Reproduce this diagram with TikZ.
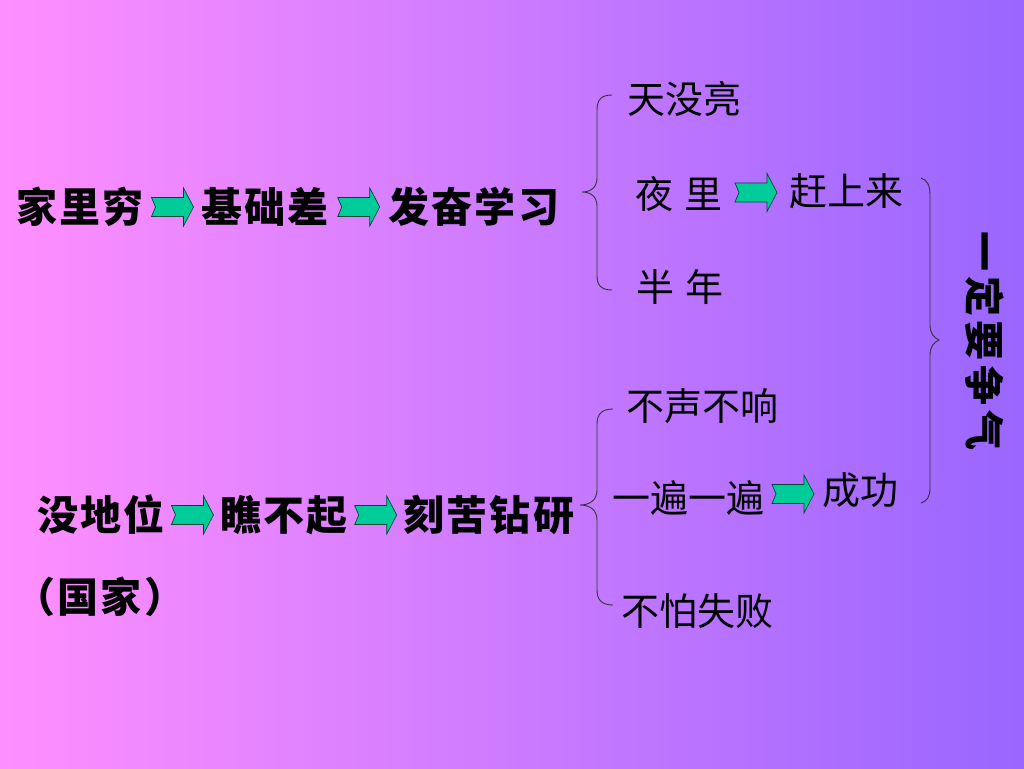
\documentclass[tikz,border=0pt]{standalone}
\usepackage{fontspec}
\newfontfamily\cjk{Noto Sans CJK SC}
\begin{document}
\begin{tikzpicture}[x=1pt,y=-1pt,
  lefttext/.style={inner sep=0pt, font=\cjk\bfseries\fontsize{41}{43}\selectfont\addfontfeature{LetterSpace=5}},
  righttext/.style={inner sep=0pt, font=\cjk\fontsize{38}{40}\selectfont},
  bracestyle/.style={draw=black!80, line width=0.9pt},
  barrow/.pic={\filldraw[fill={rgb,255:red,0;green,204;blue,153}, draw={rgb,255:red,0;green,70;blue,50}, line width=0.7pt]
     (-21,-9.5) -- (11,-9.5) -- (11,-19) -- (21,0) -- (11,19) -- (11,9.5) -- (-21,9.5) -- (-17,0) -- cycle;}
]
\useasboundingbox (0,0) rectangle (1024,768);
\shade[left color={rgb,255:red,255;green,143;blue,255}, right color={rgb,255:red,153;green,102;blue,255}] (0,0) rectangle (1024,768);

% top-left chain
\node[lefttext] (a1) at (80,207) {家里穷};
\node[lefttext] (a2) at (265,207) {基础差};
\node[lefttext] (a3) at (474,207) {发奋学习};
\path (a1.east) -- (a2.west) pic[pos=0.5]{barrow};
\path (a2.east) -- (a3.west) pic[pos=0.5]{barrow};

% bottom-left chain
\node[lefttext] (b1) at (101,515) {没地位};
\node[lefttext] (b2) at (284,515) {瞧不起};
\node[lefttext] (b3) at (489,515) {刻苦钻研};
\node[lefttext] (b4) at (100,597) {（国家）};
\path (b1.east) -- (b2.west) pic[pos=0.5]{barrow};
\path (b2.east) -- (b3.west) pic[pos=0.5]{barrow};

% upper brace
\draw[bracestyle] (612,95) .. controls (601,95) and (597,100) .. (597,110) -- (597,178)
  .. controls (597,188) and (590,192) .. (582,192)
  .. controls (590,192) and (597,196) .. (597,206) -- (597,276)
  .. controls (597,285) and (601,290) .. (612,290);

% upper right items
\node[righttext] (c1) at (684,99) {天没亮};
\node[righttext] (c2) at (679,194) {夜\hspace{12pt}里};
\node[righttext] (c3) at (846,191) {赶上来};
\node[righttext] (c4) at (680,287) {半\hspace{12pt}年};
\path (c2.east) -- (c3.west) pic[pos=0.5]{barrow};

% lower brace
\draw[bracestyle] (613,409) .. controls (602,409) and (597,414) .. (597,424) -- (597,490)
  .. controls (597,500) and (590,505) .. (580,505)
  .. controls (590,505) and (597,510) .. (597,520) -- (597,590)
  .. controls (597,600) and (602,605) .. (613,605);

% lower right items
\node[righttext] (d1) at (702,406) {不声不响};
\node[righttext] (d2) at (688,498) {一遍一遍};
\node[righttext] (d3) at (860,490) {成功};
\node[righttext] (d4) at (697,611) {不怕失败};
\path (d2.east) -- (d3.west) pic[pos=0.5]{barrow};

% right brace
\draw[bracestyle] (921,178) .. controls (927,180) and (930,185) .. (930,195) -- (930,325)
  .. controls (930,333) and (934,338) .. (939,340)
  .. controls (934,342) and (930,347) .. (930,355) -- (930,488)
  .. controls (930,497) and (927,501) .. (921,503);

% vertical text
\node[inner sep=0pt, rotate=-90, font=\cjk\bfseries\fontsize{40}{42}\selectfont\addfontfeature{LetterSpace=12}] (e) at (985,341) {一定要争气};
\end{tikzpicture}
\end{document}
